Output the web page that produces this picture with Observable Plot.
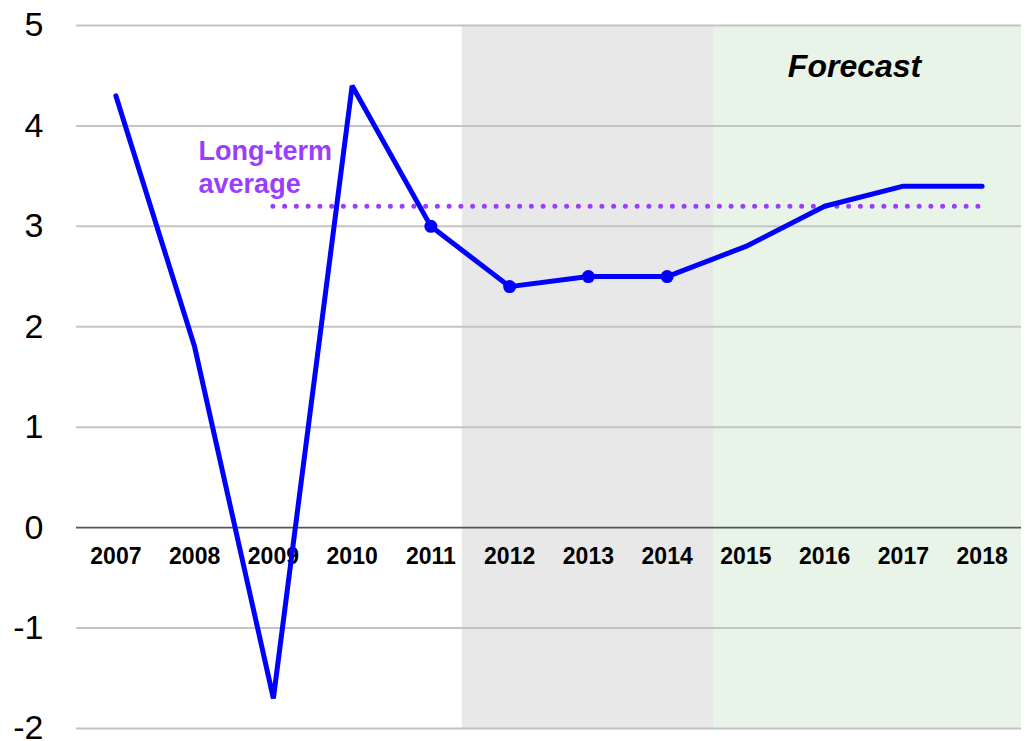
<!DOCTYPE html>
<html>
<head>
<meta charset="utf-8">
<script src="https://cdn.jsdelivr.net/npm/d3@7"></script>
<script src="https://cdn.jsdelivr.net/npm/@observablehq/plot@0.6"></script>
<style>
  html, body { margin: 0; padding: 0; background: #fff; }
  #chart { width: 1026px; height: 741px; overflow: hidden; }
  svg { font-family: "Liberation Sans", Arial, sans-serif; }
</style>
</head>
<body>
<div id="chart"></div>
<script>
// ---- data ----
const years = [2007, 2008, 2009, 2010, 2011, 2012, 2013, 2014, 2015, 2016, 2017, 2018];
const values = [4.3, 1.8, -1.7, 4.4, 3.0, 2.4, 2.5, 2.5, 2.8, 3.2, 3.4, 3.4];
const markedYears = [2011, 2012, 2013, 2014];
const yTicks = [-2, -1, 0, 1, 2, 3, 4, 5];
const longTermAverage = 3.2;
const averageFrom = 2009;
const averageTo = 2018;
const averageLabel = "Long-term\naverage";
const forecastLabel = "Forecast";
const greyBand = [2011.4, 2014.59];
const greenBand = [2014.59, 2018.5];

const series = years.map((year, i) => ({year, value: values[i]}));
const marked = series.filter(d => markedYears.includes(d.year));

const chart = Plot.plot({
  width: 1026,
  height: 741,
  marginLeft: 76,
  marginRight: 5,
  marginTop: 25,
  marginBottom: 13,
  style: {fontFamily: "'Liberation Sans', Arial, sans-serif", background: "#fff"},
  x: {domain: [2006.5, 2018.5], axis: null},
  y: {domain: [-2, 5], ticks: yTicks},
  marks: [
    Plot.rect([{x1: greyBand[0], x2: greyBand[1]}], {x1: "x1", x2: "x2", y1: -2, y2: 5, fill: "#e8e8e8"}),
    Plot.rect([{x1: greenBand[0], x2: greenBand[1]}], {x1: "x1", x2: "x2", y1: -2, y2: 5, fill: "#e8f4e8"}),
    Plot.ruleY(yTicks.filter(t => t !== 0), {stroke: "#c4c4c4", strokeWidth: 2}),
    Plot.ruleY([0], {stroke: "#555", strokeWidth: 1.6}),
    Plot.axisY({ticks: yTicks, tickSize: 0, tickPadding: 33, fontSize: 34, tickFormat: d => String(d), label: null, fill: "#000"}),
    Plot.text(years, {x: d => d, y: 0, text: d => String(d), fontSize: 23, fontWeight: "bold", lineAnchor: "bottom", dy: 36, fill: "#000"}),
    Plot.ruleY([longTermAverage], {x1: averageFrom, x2: averageTo, stroke: "#9b3dff", strokeWidth: 5, strokeDasharray: "0,11.75", strokeLinecap: "round"}),
    Plot.text([averageLabel], {x: 2008.05, y: longTermAverage, text: d => d, textAnchor: "start", lineAnchor: "bottom", dy: -13, fontSize: 27, fontWeight: "bold", fill: "#9b3dff", lineHeight: 1.25}),
    Plot.text([forecastLabel], {x: 2016.38, y: 4.49, text: d => d, lineAnchor: "bottom", fontSize: 32, fontWeight: "bold", fontStyle: "italic", fill: "#000"}),
    Plot.line(series, {x: "year", y: "value", stroke: "#0000ff", strokeWidth: 5, strokeLinejoin: "miter", strokeLinecap: "round"}),
    Plot.dot(marked, {x: "year", y: "value", r: 6.5, fill: "#0000ff", stroke: "none"})
  ]
});
document.getElementById("chart").appendChild(chart);
</script>
</body>
</html>
